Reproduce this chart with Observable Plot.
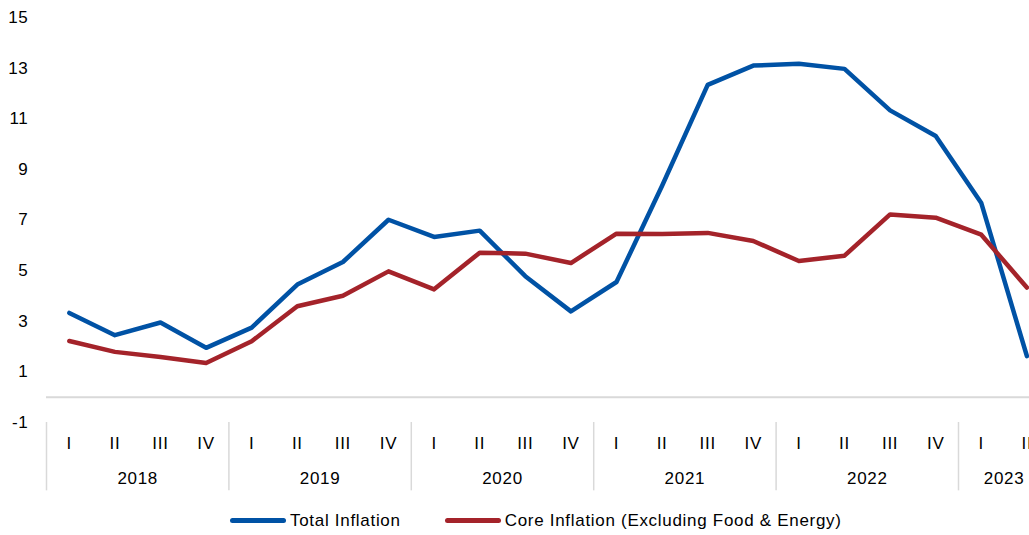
<!DOCTYPE html>
<html>
<head>
<meta charset="utf-8">
<script src="https://cdn.jsdelivr.net/npm/d3@7"></script>
<script src="https://cdn.jsdelivr.net/npm/@observablehq/plot@0.6"></script>
<style>
  body { margin: 0; background: #fff; font-family: "Liberation Sans", Arial, sans-serif; }
  #chart svg { display: block; }
  .legend { display: flex; align-items: center; height: 35px; margin-top: 3px; padding-left: 230px; font-size: 17px; letter-spacing: 0.7px; color: #000; }
  .sw { width: 56px; height: 5px; border-radius: 3px; margin-right: 4px; }
  .item { display: flex; align-items: center; }
</style>
</head>
<body>
<div id="chart"></div>
<div class="legend">
  <div class="item"><div class="sw" style="background:#0052A5"></div><span>Total Inflation</span></div>
  <div class="item" style="margin-left:44px"><div class="sw" style="background:#A4232A"></div><span>Core Inflation (Excluding Food &amp; Energy)</span></div>
</div>
<script>
const years = ["2018", "2019", "2020", "2021", "2022", "2023"];
const quarterLabels = ["I","II","III","IV","I","II","III","IV","I","II","III","IV","I","II","III","IV","I","II","III","IV","I","II"];
const quarterYears = ["2018","2018","2018","2018","2019","2019","2019","2019","2020","2020","2020","2020","2021","2021","2021","2021","2022","2022","2022","2022","2023","2023"];
const totalInflation = [3.33, 2.45, 2.95, 1.95, 2.75, 4.45, 5.34, 7.01, 6.33, 6.58, 4.78, 3.39, 4.55, 8.35, 12.34, 13.1, 13.17, 12.97, 11.33, 10.32, 7.67, 1.62];
const coreInflation = [2.22, 1.79, 1.59, 1.35, 2.21, 3.59, 4.01, 4.97, 4.26, 5.71, 5.67, 5.30, 6.46, 6.45, 6.49, 6.17, 5.38, 5.59, 7.22, 7.09, 6.42, 4.33];
const yTicks = [-1, 1, 3, 5, 7, 9, 11, 13, 15];

const idx = quarterLabels.map((q, i) => i);
const totalData = idx.map(i => ({i, v: totalInflation[i]}));
const coreData = idx.map(i => ({i, v: coreInflation[i]}));

const groups = years.map(y => {
  const ids = idx.filter(i => quarterYears[i] === y);
  return {year: y, start: ids[0], end: ids[ids.length - 1]};
});
const separators = groups.map(g => g.start - 0.5);
const yearLabels = groups.map(g => ({year: g.year, x: (g.start + g.end) / 2}));

const font = "Liberation Sans, Arial, sans-serif";

const chart = Plot.plot({
  width: 1029,
  height: 500,
  marginTop: 17,
  marginBottom: 78,
  marginLeft: 46,
  marginRight: 0,
  style: {fontFamily: font, fontSize: "17px", letterSpacing: "0.7px", color: "#000", background: "#fff", overflow: "hidden"},
  x: {type: "linear", domain: [-0.5, quarterLabels.length - 0.5], range: [46, 46 + 45.6 * quarterLabels.length], axis: null},
  y: {domain: [-1, 15], ticks: yTicks, tickSize: 0, tickPadding: 18, label: null, tickFormat: d => String(d)},
  marks: [
    Plot.ruleY([0], {stroke: "#d9d9d9", strokeWidth: 2}),
    Plot.ruleX(separators, {x: d => d, y1: -1, y2: -3.7, stroke: "#d9d9d9", strokeWidth: 1.5, clip: false}),
    Plot.text(idx, {x: d => d, text: d => quarterLabels[d], frameAnchor: "bottom", dy: 26, fill: "#000"}),
    Plot.text(yearLabels, {x: "x", text: "year", frameAnchor: "bottom", dy: 61, fill: "#000"}),
    Plot.line(totalData, {x: "i", y: "v", stroke: "#0052A5", strokeWidth: 4.5, strokeLinejoin: "round", strokeLinecap: "round"}),
    Plot.line(coreData, {x: "i", y: "v", stroke: "#A4232A", strokeWidth: 4.5, strokeLinejoin: "round", strokeLinecap: "round"})
  ]
});
document.getElementById("chart").appendChild(chart);
</script>
</body>
</html>
